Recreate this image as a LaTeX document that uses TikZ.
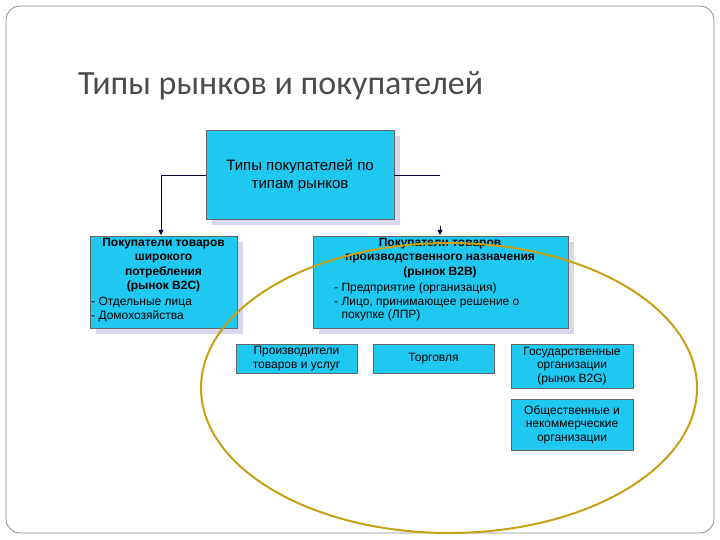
\documentclass[tikz,border=0pt]{standalone}
\usepackage{fontspec}
\setmainfont{Liberation Sans}
\newfontfamily\titlefont{Carlito}
\usetikzlibrary{arrows.meta}
\definecolor{boxc}{RGB}{30,200,240}
\definecolor{shad}{RGB}{215,215,238}
\definecolor{ell}{RGB}{200,160,20}
\begin{document}
\begin{tikzpicture}[x=1pt,y=-1pt,
  bx/.style={fill=boxc,draw=black!60,line width=0.4pt},
  sh/.style={fill=shad},
  txt/.style={font=\fontsize{12}{13.5}\selectfont,align=center,inner sep=0pt},
  conn/.style={draw=black!80!blue,line width=0.8pt},
  tip/.style={-{Triangle[width=5pt,length=5pt]}}]
\useasboundingbox (0,0) rectangle (720,540);
\fill[white] (0,0) rectangle (720,540);
\draw[black!45,line width=0.8pt,rounded corners=14pt] (6,6) rectangle (714,533);
\node[anchor=base west,inner sep=0pt,text=black!70,font=\titlefont\fontsize{34}{36}\selectfont] (title) at (78,95) {Типы рынков и покупателей};
% shadows
\fill[sh] (212,136) rectangle (400,225);
\fill[sh] (96,242) rectangle (243,334);
\fill[sh] (319,242) rectangle (574,334);
% boxes
\draw[bx] (206,130) rectangle (394,219);
\node[txt,font=\fontsize{15}{18}\selectfont] (top) at (300,175) {Типы покупателей по\\типам рынков};
\draw[bx] (90,236) rectangle (237,328);
\node[txt,anchor=north,font=\bfseries\fontsize{12}{14.5}\selectfont] (b2c) at (163.5,238) {Покупатели товаров\\широкого\\потребления\\(рынок B2C)};
\node[txt,anchor=north west,align=left] (b2cl) at (91,297) {- Отдельные лица\\- Домохозяйства};
\draw[bx] (313,236) rectangle (568,328);
\node[txt,anchor=north,font=\bfseries\fontsize{12}{14.5}\selectfont] (b2b) at (440,238) {Покупатели товаров\\производственного назначения\\(рынок B2B)};
\node[txt,anchor=north west,align=left] (b2bl) at (334,283) {- Предприятие (организация)\\- Лицо, принимающее решение о\\\phantom{- }покупке (ЛПР)};
\draw[bx] (236,344) rectangle (357,373);
\node[txt] (p1) at (296.5,358.5) {Производители\\товаров и услуг};
\draw[bx] (373,344) rectangle (494,373);
\node[txt] (p2) at (433.5,358.5) {Торговля};
\draw[bx] (511,344) rectangle (633,388);
\node[txt] (p3) at (572,366) {Государственные\\организации\\(рынок B2G)};
\draw[bx] (511,399) rectangle (633,450);
\node[txt] (p4) at (572,424.5) {Общественные и\\некоммерческие\\организации};
% connectors
\coordinate (tl) at (206,175);
\coordinate (tr) at (394,175);
\coordinate (lt) at (161,235);
\coordinate (re) at (440,175);
\coordinate (ra) at (440,226);
\coordinate (rb) at (440,235);
\draw[conn,tip] (tl) -| (lt);
\draw[conn] (tr) -- (re);
\draw[conn,tip] (ra) -- (rb);
% ellipse
\draw[ell,line width=2pt] (449,388) ellipse [x radius=248, y radius=145];
\end{tikzpicture}
\end{document}
